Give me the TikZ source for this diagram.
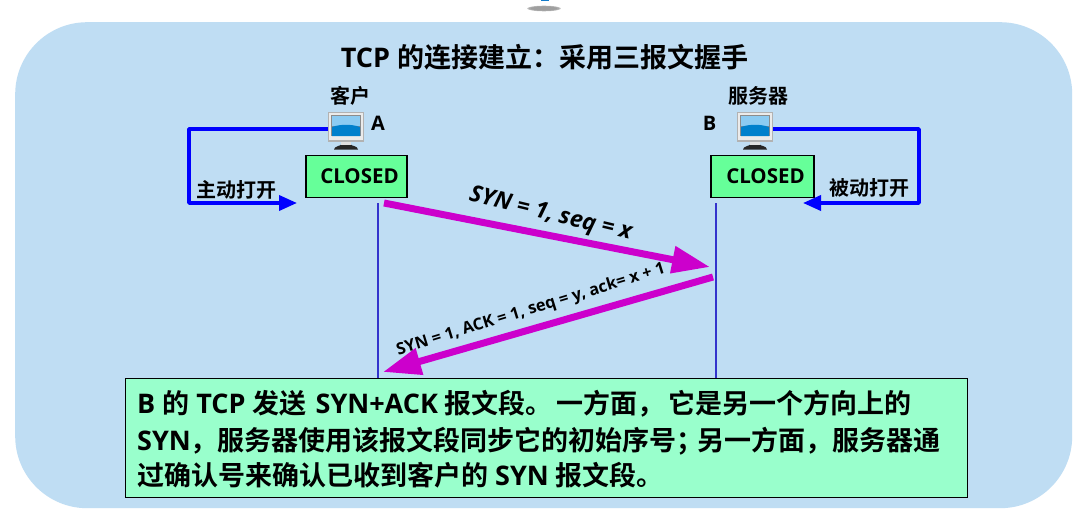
\documentclass[tikz,border=0pt]{standalone}
\usepackage{fontspec}
\setmainfont{Open Sans}
\newfontfamily\cjk{Noto Sans CJK SC}[BoldFont=* Bold]
\newcommand{\zh}[1]{{\cjk\bfseries #1}}
\usetikzlibrary{arrows.meta,shapes.geometric}
\definecolor{panelblue}{HTML}{BFDDF3}
\definecolor{closedgreen}{HTML}{66FF99}
\definecolor{notegreen}{HTML}{99FFCC}
\definecolor{flowblue}{HTML}{0000FF}
\definecolor{lifeblue}{HTML}{3333CC}
\definecolor{msgpurple}{HTML}{CC00CC}
\definecolor{screenlight}{HTML}{8CCBF2}
\definecolor{screendark}{HTML}{0080CC}
\tikzset{
  x=1pt,y=-1pt,
  panel/.style={draw=none,fill=panelblue,rounded corners=72pt,minimum width=1057pt,minimum height=486pt,anchor=north west,inner sep=0pt},
  statebox/.style={draw=black,line width=1.6pt,fill=closedgreen,minimum height=42pt,inner sep=0pt,font=\bfseries\fontsize{20.5}{24}\selectfont},
  label/.style={inner sep=0pt,font=\bfseries\fontsize{20}{24}\selectfont},
  hostbox/.style={minimum width=36pt,minimum height=38pt,inner sep=0pt},
  flow/.style={flowblue,line width=3.6pt,line join=round,-{Triangle[length=18pt,width=15pt]}},
  life/.style={lifeblue,line width=2.6pt},
  msg/.style={msgpurple,line width=7pt,-{Triangle[length=38pt,width=26pt]}},
  note/.style={draw=black,line width=0.8pt,fill=notegreen,minimum width=842pt,minimum height=119pt,anchor=north west,inner sep=0pt},
  notetext/.style={inner sep=0pt,anchor=base west,font=\bfseries\fontsize{27}{32}\selectfont},
}
\newcommand{\monitor}[1]{%
  \begin{scope}[shift={(#1)}]
    \fill[black!85] (-12,37.5) .. controls (-12,34) and (-5,34) .. (-4,32) -- (4,32) .. controls (5,34) and (12,34) .. (12,37.5) -- cycle;
    \fill[black!12] (-5,28) rectangle (5,33);
    \fill[black!30] (-18,0) rectangle (18,30);
    \fill[black!8] (-17,1) rectangle (17,28);
    \fill[black!45] (-15,3) rectangle (15,24);
    \fill[screenlight] (-14,4) rectangle (14,14);
    \fill[screendark] (-14,15) .. controls (-5,12) and (5,12) .. (14,15) -- (14,24) -- (-14,24) -- cycle;
  \end{scope}}
\begin{document}
\begin{tikzpicture}
\useasboundingbox (0,0) rectangle (1085,511);
\fill[white] (0,0) rectangle (1085,511);
\foreach \o/\g in {25/60,40/55,70/45}{\fill[black!\g,opacity=.35] (544,8.5) ellipse ({19-\o/12} and {3.2-\o/60});}
\fill[cyan!60!blue] (541,0) rectangle (549,1.5);
\node[panel] (bg) at (15,22) {};
\node[inner sep=0pt,font=\bfseries\fontsize{27}{32}\selectfont,anchor=base] (title) at (544.5,67.5) {TCP \zh{的连接建立：采用三报文握手}};
\node[label,anchor=base] (clabel) at (350,103) {\zh{客户}};
\node[label,anchor=base] (slabel) at (758,103) {\zh{服务器}};
\node[hostbox] (hostA) at (346,131) {};
\node[hostbox] (hostB) at (755,131) {};
\monitor{346,112}
\monitor{755,112}
\node[label,anchor=base] (nameA) at (378,131) {A};
\node[label,anchor=base] (nameB) at (709.5,131) {B};
\node[statebox,minimum width=101pt] (stateA) at (356.5,176.5) {\hspace*{6pt}CLOSED};
\node[statebox,minimum width=103pt] (stateB) at (762.5,176.5) {\hspace*{6pt}CLOSED};
\coordinate (inA) at (297,203);
\coordinate (inB) at (803,203);
\draw[flow] ([yshift=2pt]hostA.west) -- (189,129) -- (189,203) -- (inA);
\draw[flow] ([yshift=2pt]hostB.east) -- (919,129) -- (919,203) -- (inB);
\node[label,anchor=base] (activeL) at (236.5,197) {\zh{主动打开}};
\node[label,anchor=base] (passiveL) at (869.5,195) {\zh{被动打开}};
\coordinate (lifeA1) at (378,203);
\coordinate (lifeA2) at (378,380);
\coordinate (lifeB1) at (716,203);
\coordinate (lifeB2) at (716,380);
\draw[life] (lifeA1) -- (lifeA2);
\draw[life] (lifeB1) -- (lifeB2);
\coordinate (m1s) at (384,203);
\coordinate (m1e) at (710,267);
\coordinate (m2s) at (713,277);
\coordinate (m2e) at (383,372);
\draw[msg] (m1s) -- (m1e);
\draw[msg] (m2s) -- (m2e);
\node[inner sep=0pt,rotate=-13.5,font=\bfseries\itshape\fontsize{23}{28}\selectfont] (m1t) at (550.5,215) {SYN = 1, seq = x};
\node[inner sep=0pt,rotate=17,font=\bfseries\fontsize{16.4}{20}\selectfont] (m2t) at (531,310) {SYN = 1, ACK = 1, seq = y, ack= x + 1};
\node[note] (nbox) at (125,378) {};
\node[notetext] (n1) at (137,413) {B \zh{的} TCP \zh{发送} \hspace*{2pt}SYN+ACK \zh{报文段。}\hspace*{4pt}\zh{一方面，}\hspace*{4pt}\zh{它是另一个方向上的}};
\node[notetext] (n2) at (137,450) {SYN\zh{，服务器使用该报文段同步它的初始序号；}\hspace*{-6pt}\zh{另一方面，服务器通}};
\node[notetext] (n3) at (137,485) {\zh{过确认号来确认已收到客户的} SYN \zh{报文段。}};
\end{tikzpicture}
\end{document}
